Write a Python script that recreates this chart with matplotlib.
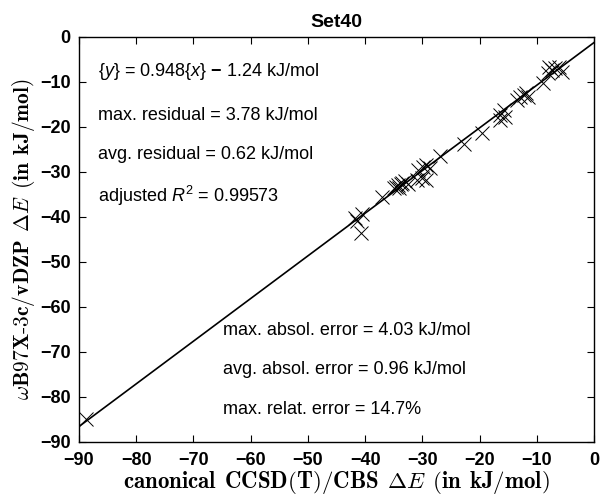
import matplotlib
matplotlib.use("Agg")
import matplotlib.pyplot as plt
import numpy as np

plt.rcParams['font.family'] = ['Liberation Sans', 'DejaVu Sans']
plt.rcParams['mathtext.fontset'] = 'custom'
plt.rcParams['mathtext.rm'] = 'Liberation Sans'
plt.rcParams['mathtext.it'] = 'Liberation Sans:italic'
plt.rcParams['mathtext.bf'] = 'Liberation Sans:bold'

# reference (x) and method (y) energies, kJ/mol
ref_x = [-88.7, -41.8, -41.5, -40.6, -40.7, -37.0,
         -35.0, -34.6, -34.2, -34.0, -33.8, -33.5, -33.0, -32.5,
         -31.0, -30.7, -30.1, -29.8, -29.4, -29.4, -28.7,
         -27.0, -22.7, -19.6, -16.4, -15.8, -16.4, -15.6,
         -13.5, -12.9, -12.3, -11.9, -11.5,
         -8.9, -8.0, -7.8, -7.4, -6.8, -6.2, -5.6]
calc_y = [-84.8, -40.3, -40.8, -39.4, -43.5, -35.6,
          -33.6, -33.3, -33.0, -33.6, -32.7, -32.4, -32.1, -32.6,
          -31.8, -29.6, -31.4, -28.8, -28.4, -31.8, -29.2,
          -26.5, -23.8, -21.4, -18.4, -16.2, -17.3, -17.8,
          -14.0, -13.3, -12.9, -12.5, -13.3,
          -10.3, -8.1, -6.7, -7.3, -7.0, -6.6, -7.7]
slope = 0.948
intercept = -1.24
x_ticks = [-90, -80, -70, -60, -50, -40, -30, -20, -10, 0]
y_ticks = [-90, -80, -70, -60, -50, -40, -30, -20, -10, 0]

fig = plt.figure(figsize=(6, 4.97), dpi=100)
ax = fig.add_axes([0.1317, 0.1107, 0.8583, 0.8149])

ax.plot(ref_x, calc_y, linestyle='none', marker='x', color='black',
        markersize=9.5, markeredgewidth=0.7)
fx = np.array([-90, 0])
ax.plot(fx, slope * fx + intercept, color='black', linewidth=1.2)

ax.set_xlim(-90, 0)
ax.set_ylim(-90, 0)
ax.set_xticks(x_ticks)
ax.set_yticks(y_ticks)
ax.tick_params(direction='in', top=True, right=True, length=5, width=0.8,
               labelsize=13)
ax.tick_params(axis='x', pad=7)
ax.tick_params(axis='y', pad=6)
for lab in ax.get_xticklabels() + ax.get_yticklabels():
    lab.set_fontweight('bold')
for s in ax.spines.values():
    s.set_linewidth(1.0)

ax.set_title('Set40', fontsize=14, fontweight='bold', pad=7)

ax.set_xlabel(r'$\mathbf{canonical\;\,CCSD(T)/CBS}\;\,\mathbf{\Delta}\mathit{E}\;\,\mathbf{(in\;\,kJ/mol)}$',
              fontsize=16.5, math_fontfamily='cm', labelpad=0)
ax.set_ylabel(r'$\omega\mathbf{B97X\text{-}3c/vDZP}\;\,\mathbf{\Delta}\mathit{E}\;\,\mathbf{(in\;\,kJ/mol)}$',
              fontsize=15.5, math_fontfamily='cm', labelpad=2)

txt_kw = dict(transform=ax.transAxes, fontsize=13, va='center', ha='left')
def ax_xy(px, py):
    return ((px - 79) / 515.0, (442 - py) / 405.0)

ax.text(*ax_xy(98, 72), r'{$y$} = 0.948{$x$} $\mathbf{-}$ 1.24 kJ/mol', **txt_kw)
ax.text(*ax_xy(98, 116), 'max. residual = 3.78 kJ/mol', **txt_kw)
ax.text(*ax_xy(98, 155), 'avg. residual = 0.62 kJ/mol', **txt_kw)
ax.text(*ax_xy(98, 196), r'adjusted $R^2$ = 0.99573', **txt_kw)
ax.text(*ax_xy(223, 331), 'max. absol. error = 4.03 kJ/mol', **txt_kw)
ax.text(*ax_xy(223, 370), 'avg. absol. error = 0.96 kJ/mol', **txt_kw)
ax.text(*ax_xy(223, 410), 'max. relat. error = 14.7%', **txt_kw)

fig.savefig('out.png', dpi=100)
